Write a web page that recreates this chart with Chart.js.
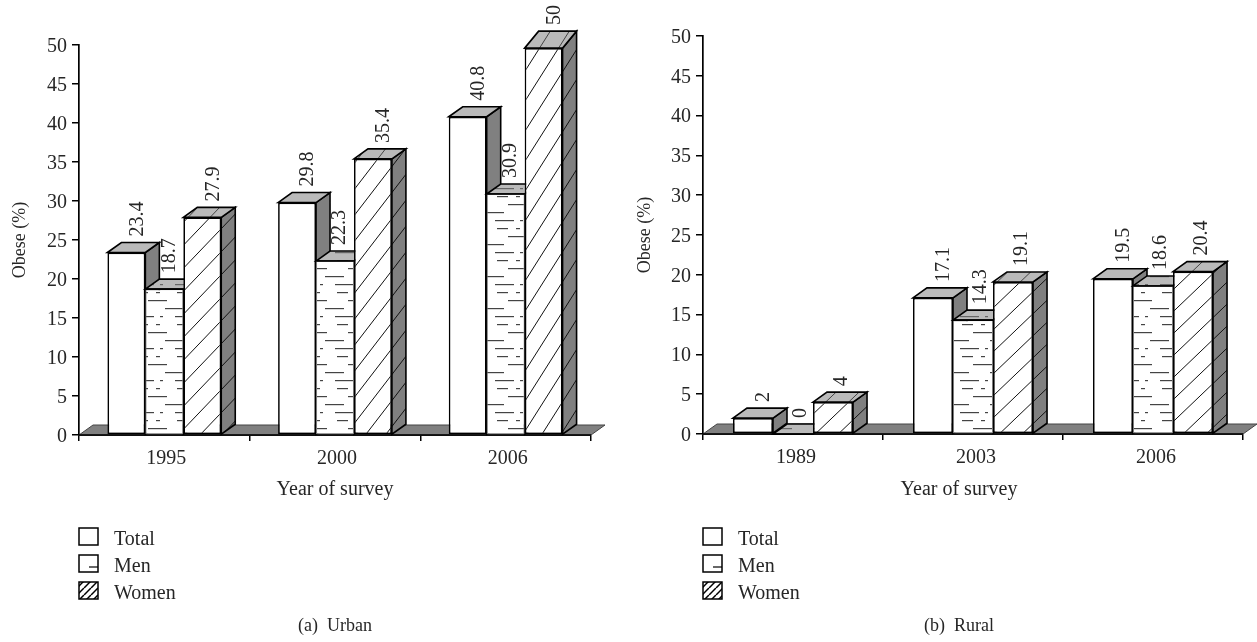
<!DOCTYPE html>
<html><head><meta charset="utf-8">
<script src="https://cdn.jsdelivr.net/npm/chart.js@4"></script>
<style>
html,body{margin:0;padding:0;background:#fff;overflow:hidden}
#wrap{position:relative;width:1257px;height:642px}
canvas{position:absolute;top:0;left:0}
</style></head><body>
<div id="wrap">
<div style="position:absolute;left:0;top:0;width:625px;height:642px"><canvas id="a"></canvas></div>
<div style="position:absolute;left:625px;top:0;width:632px;height:642px"><canvas id="bc"></canvas></div>
</div>
<script>
const urbanYears = ['1995','2000','2006'];
const urbanTotal = [23.4,29.8,40.8];
const urbanMen = [18.7,22.3,30.9];
const urbanWomen = [27.9,35.4,49.6];
const urbanWomenText = ['27.9','35.4','50'];
const ruralYears = ['1989','2003','2006'];
const ruralTotal = [2,17.1,19.5];
const ruralMen = [0,14.3,18.6];
const ruralWomen = [4,19.1,20.4];
const seriesNames = ['Total','Men','Women'];
const yTicksMax = 50;

const FONT = '"Liberation Serif"';
const INK = '#262626';
Chart.defaults.font.family = FONT;
Chart.defaults.font.size = 20;
Chart.defaults.color = INK;

function tile(w,h,draw){
  const c=document.createElement('canvas');c.width=w;c.height=h;
  const x=c.getContext('2d');draw(x);
  return document.createElement('canvas').getContext('2d').createPattern(c,'repeat');
}
function hatch(w,h,bg,line,lw){
  return tile(w,h,x=>{
    x.fillStyle=bg;x.fillRect(0,0,w,h);
    x.strokeStyle=line;x.lineWidth=lw;
    for(let k=-1;k<=1;k++){x.beginPath();x.moveTo(k*w,h);x.lineTo(k*w+w,0);x.stroke();}
  });
}
function dashes(bg,line){
  const rows=[[[17,28],[36,40]],[[0,7],[28,40]],[[5,24]],[[0,3],[15,34]]];
  return tile(40,32,x=>{
    x.fillStyle=bg;x.fillRect(0,0,40,32);
    x.fillStyle=line;
    rows.forEach((r,i)=>r.forEach(d=>x.fillRect(d[0],i*8+4,d[1]-d[0],1.2)));
  });
}
const TOPC='#bababa', SIDEC='#808080';
const menFront=dashes('#ffffff','#444444'), menTop=dashes(TOPC,'#666666');

function panel(id,cfg){
  const [dx,dy]=[14,10];
  const depth3d={
    id:'depth3d',
    beforeDatasetsDraw(ch){
      const {ctx,scales:{x,y}}=ch, b=y.getPixelForValue(0);
      ctx.save();ctx.fillStyle=SIDEC;ctx.strokeStyle='#444';ctx.lineWidth=1;
      ctx.beginPath();ctx.moveTo(x.left,b);ctx.lineTo(x.left+dx,b-dy);ctx.lineTo(x.right+dx,b-dy);ctx.lineTo(x.right,b);ctx.closePath();
      ctx.fill();ctx.stroke();
      ctx.strokeStyle='#000';ctx.lineWidth=1.7;ctx.beginPath();ctx.moveTo(x.left,b);ctx.lineTo(x.right,b);ctx.stroke();
      ctx.restore();
    },
    beforeDatasetDraw(){return false;},
    afterDatasetsDraw(ch){
      const ctx=ch.ctx;
      cfg.labels.forEach((_,j)=>{
        [0,1,2].forEach(i=>{
          const el=ch.getDatasetMeta(i).data[j];
          const l=el.x-el.width/2,r=el.x+el.width/2,t=el.y,b=el.base;
          const d=(i===2&&cfg.values[2][j]>49)?17:dy;
          ctx.save();ctx.lineJoin='miter';ctx.lineWidth=1.6;ctx.strokeStyle='#000';
          const h=cfg.hatch[j];
          ctx.fillStyle=i===2?hatch(h[0],h[1],SIDEC,'#111',1):SIDEC;
          ctx.beginPath();ctx.moveTo(r,t);ctx.lineTo(r+dx,t-d);ctx.lineTo(r+dx,b-dy);ctx.lineTo(r,b);ctx.closePath();ctx.fill();ctx.stroke();
          ctx.fillStyle=i===2?hatch(h[0],h[1],TOPC,'#444',1):i===1?menTop:TOPC;
          ctx.beginPath();ctx.moveTo(l,t);ctx.lineTo(l+dx,t-d);ctx.lineTo(r+dx,t-d);ctx.lineTo(r,t);ctx.closePath();ctx.fill();ctx.stroke();
          ctx.restore();
          el.draw(ctx);
          if(i===1){ctx.save();ctx.strokeStyle='#000';ctx.lineWidth=1.6;ctx.beginPath();ctx.moveTo(l,t);ctx.lineTo(r,t);ctx.stroke();ctx.restore();}
          // value label
          const txt=cfg.texts&&i===2?cfg.texts[j]:String(cfg.values[i][j]);
          ctx.save();ctx.translate(el.x+cfg.labelDx[i],t-d-6);ctx.rotate(-Math.PI/2);
          ctx.font='20px '+FONT;ctx.fillStyle=INK;ctx.textAlign='left';ctx.textBaseline='middle';
          ctx.fillText(txt,0,0);ctx.restore();
        });
      });
      // axis title, legend, caption
      ctx.save();
      ctx.font='20px '+FONT;ctx.fillStyle=INK;ctx.textBaseline='alphabetic';
      ctx.textAlign='center';
      ctx.fillText('Year of survey',cfg.titleX,495);
      ctx.font='18px '+FONT;
      ctx.fillText(cfg.caption,cfg.titleX,631);
      ctx.font='20px '+FONT;
      ctx.textAlign='left';
      const ys=[528,555,582], sw=ch.scales.x.left;
      const swFill=['#fff','#fff',hatch(7,7,'#fff','#000',1.5)];
      seriesNames.forEach((n,i)=>{
        ctx.fillStyle=swFill[i];ctx.fillRect(sw,ys[i],19,17);
        ctx.strokeStyle='#000';ctx.lineWidth=1.5;ctx.strokeRect(sw,ys[i],19,17);
        if(i===1){ctx.lineWidth=1.2;ctx.beginPath();ctx.moveTo(sw+10,ys[i]+12);ctx.lineTo(sw+19,ys[i]+12);ctx.stroke();}
        ctx.fillStyle=INK;ctx.fillText(n,sw+35,ys[i]+17);
      });
      ctx.restore();
    }
  };
  const common={categoryPercentage:0.667,barPercentage:1,borderSkipped:false};
  new Chart(document.getElementById(id),{
    type:'bar',
    data:{labels:cfg.labels,datasets:[
      {label:seriesNames[0],data:cfg.values[0],backgroundColor:'#fff',borderColor:'#000',borderWidth:1.7,...common},
      {label:seriesNames[1],data:cfg.values[1],backgroundColor:menFront,borderColor:'#7a7a7a',borderWidth:1,...common},
      {label:seriesNames[2],data:cfg.values[2],backgroundColor:cfg.hatch.map(h=>hatch(h[0],h[1],'#fff','#111',1)),borderColor:'#000',borderWidth:1.7,...common}
    ]},
    options:{
      responsive:true,maintainAspectRatio:false,animation:false,devicePixelRatio:1,
      layout:{padding:{left:0,top:cfg.top,right:cfg.padR,bottom:642-cfg.bottom-60}},
      plugins:{legend:{display:false},tooltip:{enabled:false},title:{display:false}},
      scales:{
        x:{offset:true,
           grid:{drawOnChartArea:false,tickLength:6,color:'#000',lineWidth:1.5},
           border:{color:'#000',width:1.7},
           ticks:{padding:6,labelOffset:cfg.labOff,maxRotation:0,color:INK},
           afterFit(s){s.height=60;}},
        y:{min:0,max:yTicksMax,
           grid:{drawOnChartArea:false,tickLength:7,color:'#000',lineWidth:1.5},
           border:{color:'#000',width:1.7},
           ticks:{stepSize:5,padding:5,labelOffset:1.5,color:INK},
           title:{display:true,text:'Obese (%)',color:INK,padding:{top:9,bottom:0},font:{size:18}},
           afterFit(s){s.width=cfg.axisW;}}
      }
    },
    plugins:[depth3d]
  });
}
panel('a',{labels:urbanYears,values:[urbanTotal,urbanMen,urbanWomen],texts:urbanWomenText,labelDx:[11,5,11],
  hatch:[[22,23],[20,26],[19,30]],top:45,bottom:435,padR:34,axisW:79,labOff:2,titleX:335,caption:'(a)  Urban'});
panel('bc',{labels:ruralYears,values:[ruralTotal,ruralMen,ruralWomen],labelDx:[11,8,9],
  hatch:[[23,22],[23,22],[23,22]],top:36,bottom:434,padR:14,axisW:78,labOff:3,titleX:334,caption:'(b)  Rural'});
</script>
</body></html>
